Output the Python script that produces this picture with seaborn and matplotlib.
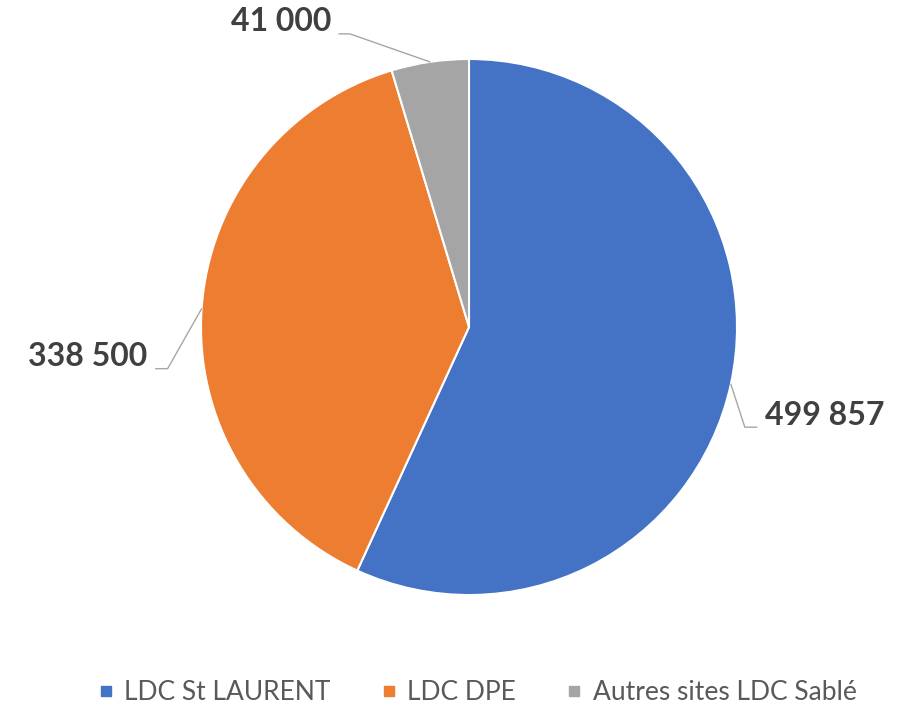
import numpy as np
import matplotlib.pyplot as plt
import seaborn as sns
from matplotlib.lines import Line2D

# données
categories = ["LDC St LAURENT", "LDC DPE", "Autres sites LDC Sablé"]
values = [499857, 338500, 41000]
value_labels = ["499 857", "338 500", "41 000"]

colors = ["#4472C4", "#ED7D31", "#A5A5A5"]

sns.set_theme(style="white")
plt.rcParams['font.family'] = ['Lato', 'DejaVu Sans']

W, H = 917, 710
cx, cy, R = 469, 327, 268   # centre et rayon du camembert (pixels)

fig = plt.figure(figsize=(W / 100, H / 100), dpi=100)
ax = fig.add_axes([0, 0, 1, 1])
wedges, _ = ax.pie(values, colors=sns.color_palette(colors), startangle=90,
                   counterclock=False,
                   wedgeprops=dict(edgecolor="white", linewidth=1.5))
ax.set_xlim(-cx / R, (W - cx) / R)
ax.set_ylim(-(H - cy) / R, cy / R)
ax.set_aspect('equal')
ax.axis('off')

# lignes de rappel : (coude dx, coude dy, segment horizontal) en pixels
leaders = [(14, -43, 12), (-34, -60, -12), (-80, 28, -11)]
for w, lab, (ex, ey, run) in zip(wedges, value_labels, leaders):
    ang = np.deg2rad((w.theta1 + w.theta2) / 2)
    x0, y0 = np.cos(ang), np.sin(ang)
    x1, y1 = x0 + ex / R, y0 + ey / R
    x2 = x1 + run / R
    ax.plot([x0, x1, x2], [y0, y1, y1], color="#A6A6A6", lw=1)
    side = 1 if run > 0 else -1
    ax.text(x2 + side * 8 / R, y1 + 12 / R, lab,
            ha='left' if side > 0 else 'right', va='center',
            fontsize=23, fontweight='bold', color='#404040')

handles = [Line2D([], [], marker='s', linestyle='', markersize=7.5, color=c)
           for c in colors]
fig.legend(handles, categories, loc='center', bbox_to_anchor=(476 / W, 1 - 693 / H),
           ncol=3, frameon=False, fontsize=19, labelcolor='#595959',
           handletextpad=0.3, columnspacing=1.8, handlelength=0.8)

fig.savefig("out.png", dpi=100)
